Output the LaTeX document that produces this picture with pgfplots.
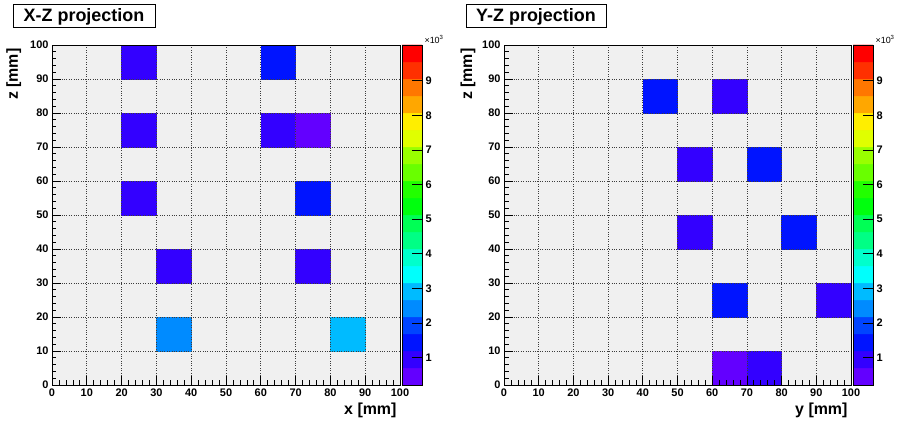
\documentclass[border=0pt]{standalone}
\usepackage{fontspec}
\setmainfont{Liberation Sans}
\usepackage{pgfplots}
\usepackage{pgfplotstable}
\pgfplotsset{compat=1.18}
\usepgfplotslibrary{patchplots}

\definecolor{bgc}{RGB}{240,240,240}
\definecolor{gridc}{RGB}{60,60,60}

\pgfkeys{/pgf/number format/assume math mode=true}

% colour scale: one row per band centre (x10^3), two columns
\pgfplotstableread{
x y
0 0.4555
1 0.4555
0 0.9465
1 0.9465
0 1.4375
1 1.4375
0 1.9285
1 1.9285
0 2.4195
1 2.4195
0 2.9105
1 2.9105
0 3.4015
1 3.4015
0 3.8925
1 3.8925
0 4.3835
1 4.3835
0 4.8745
1 4.8745
0 5.3655
1 5.3655
0 5.8565
1 5.8565
0 6.3475
1 6.3475
0 6.8385
1 6.8385
0 7.3295
1 7.3295
0 7.8205
1 7.8205
0 8.3115
1 8.3115
0 8.8025
1 8.8025
0 9.2935
1 9.2935
0 9.7845
1 9.7845
}\scaletab

\pgfplotsset{
  rootmap/.style={
    colormap={root}{
      rgb255(0cm)=(99,0,255) rgb255(1cm)=(51,0,255) rgb255(2cm)=(0,20,255)
      rgb255(3cm)=(0,68,255) rgb255(4cm)=(0,139,255) rgb255(5cm)=(0,187,255)
      rgb255(6cm)=(0,255,252) rgb255(7cm)=(0,255,204) rgb255(8cm)=(0,255,133)
      rgb255(9cm)=(0,255,85) rgb255(10cm)=(0,255,14) rgb255(11cm)=(34,255,0)
      rgb255(12cm)=(105,255,0) rgb255(13cm)=(153,255,0) rgb255(14cm)=(224,255,0)
      rgb255(15cm)=(255,238,0) rgb255(16cm)=(255,167,0) rgb255(17cm)=(255,119,0)
      rgb255(18cm)=(255,48,0) rgb255(19cm)=(255,0,0) rgb255(20cm)=(255,0,0)},
    colormap access=piecewise constant,
    point meta min=0.21, point meta max=10.03,
  },
  proj/.style={
    rootmap,
    scale only axis, width=348bp, height=340bp,
    anchor=south west,
    xmin=0, xmax=100, ymin=0, ymax=100,
    xtick={0,10,...,100}, ytick={0,10,...,100},
    minor tick num=4,
    tick align=inside, xtick pos=bottom, ytick pos=left,
    major tick length=9bp, minor tick length=4.5bp,
    grid=major, grid style={gridc, dotted, line width=0.7bp},
    axis background/.style={fill=bgc},
    axis on top,
    axis line style={line width=0.8bp},
    tick style={black, line width=0.7bp},
    ticklabel style={font=\fontsize{11}{11}\selectfont\bfseries},
    label style={font=\fontsize{16}{16}\selectfont\bfseries},
    xlabel style={at={(axis description cs:1,0)}, anchor=east, yshift=-25bp},
  },
  scalebar/.style={
    rootmap,
    scale only axis, width=20bp, height=340bp,
    anchor=south west,
    xmin=-0.5, xmax=1.5, ymin=0.21, ymax=10.03,
    xtick=\empty, ytick={1,...,9},
    ytick pos=right, yticklabel pos=right,
    tick align=inside,
    major tick length=10bp, minor tick num=0,
    ytick style={black, line width=0.8bp},
    axis line style={line width=0.8bp},
    yticklabel style={font=\fontsize{11}{11}\selectfont\bfseries},
    axis on top,
  },
  cells/.style={patch, patch type=rectangle, shader=flat, point meta=explicit},
  bands/.style={matrix plot*, mesh/cols=2, point meta=\thisrow{y}},
}

\begin{document}
\begin{tikzpicture}
\useasboundingbox (0,0) rectangle (898bp,425bp);

% ---------- X-Z projection ----------
\begin{axis}[proj, name=ax1, at={(52bp,40bp)},
  xlabel={x [mm]}, ylabel={z [mm]},
  ylabel style={at={(axis description cs:-0.11,1)}, anchor=east}]
\addplot[cells] table[meta=c] {
x y c
20 90 0.95
30 90 0.95
30 100 0.95
20 100 0.95
60 90 1.45
70 90 1.45
70 100 1.45
60 100 1.45
20 70 0.95
30 70 0.95
30 80 0.95
20 80 0.95
60 70 0.95
70 70 0.95
70 80 0.95
60 80 0.95
70 70 0.45
80 70 0.45
80 80 0.45
70 80 0.45
20 50 0.95
30 50 0.95
30 60 0.95
20 60 0.95
70 50 1.45
80 50 1.45
80 60 1.45
70 60 1.45
30 30 0.95
40 30 0.95
40 40 0.95
30 40 0.95
70 30 0.95
80 30 0.95
80 40 0.95
70 40 0.95
30 10 2.40
40 10 2.40
40 20 2.40
30 20 2.40
80 10 2.90
90 10 2.90
90 20 2.90
80 20 2.90
};
\end{axis}
\begin{axis}[scalebar, at={(402bp,40bp)}]
\addplot[bands] table {\scaletab};
\end{axis}
\node[anchor=base west, font=\fontsize{9}{9}\selectfont]
  at ([xshift=21bp,yshift=1.5bp]ax1.north east) {×10\textsuperscript{3}};
\node[draw, line width=1bp, minimum width=142bp, minimum height=23bp, inner sep=0pt,
  font=\fontsize{18}{18}\selectfont\bfseries] at (84bp,408.5bp) {X-Z projection};

% ---------- Y-Z projection ----------
\begin{axis}[proj, name=ax2, at={(504bp,40bp)}, width=347bp,
  xlabel={y [mm]}, ylabel={z [mm]},
  ylabel style={at={(axis description cs:-0.104,1)}, anchor=east}]
\addplot[cells] table[meta=c] {
x y c
40 80 1.45
50 80 1.45
50 90 1.45
40 90 1.45
60 80 0.95
70 80 0.95
70 90 0.95
60 90 0.95
50 60 0.95
60 60 0.95
60 70 0.95
50 70 0.95
70 60 1.45
80 60 1.45
80 70 1.45
70 70 1.45
50 40 0.95
60 40 0.95
60 50 0.95
50 50 0.95
80 40 1.45
90 40 1.45
90 50 1.45
80 50 1.45
60 20 1.45
70 20 1.45
70 30 1.45
60 30 1.45
90 20 0.95
100 20 0.95
100 30 0.95
90 30 0.95
60 0 0.45
70 0 0.45
70 10 0.45
60 10 0.45
70 0 0.95
80 0 0.95
80 10 0.95
70 10 0.95
};
\end{axis}
\begin{axis}[scalebar, at={(853bp,40bp)}]
\addplot[bands] table {\scaletab};
\end{axis}
\node[anchor=base west, font=\fontsize{9}{9}\selectfont]
  at ([xshift=21bp,yshift=1.5bp]ax2.north east) {×10\textsuperscript{3}};
\node[draw, line width=1bp, minimum width=140bp, minimum height=23bp, inner sep=0pt,
  font=\fontsize{18}{18}\selectfont\bfseries] at (536bp,408.5bp) {Y-Z projection};
\end{tikzpicture}
\end{document}
